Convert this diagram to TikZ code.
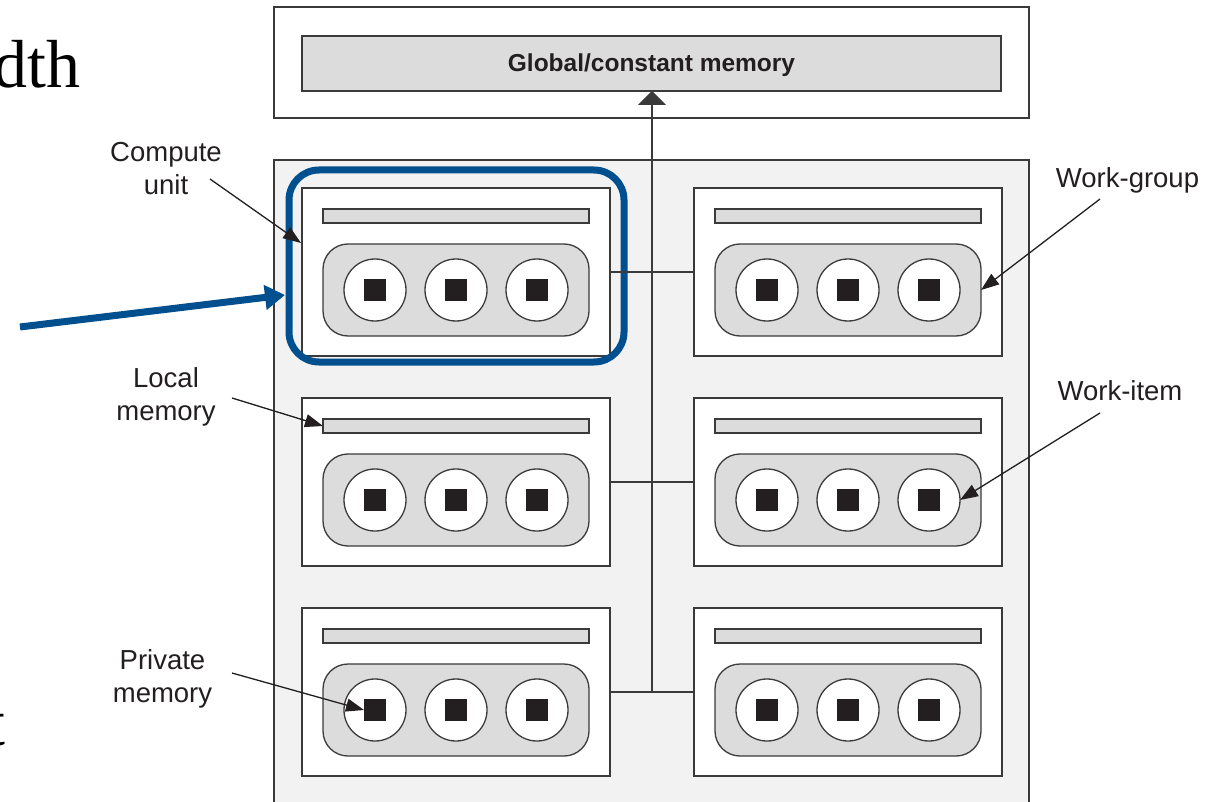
\documentclass[tikz,border=0pt]{standalone}
\usepackage{fontspec}
\setmainfont{Liberation Sans}
\newfontfamily\slidefont{Liberation Serif}
\usetikzlibrary{arrows.meta,calc}
\definecolor{ink}{HTML}{231F20}
\definecolor{edge}{HTML}{3A3A3A}
\definecolor{barfill}{HTML}{DCDCDC}
\definecolor{panelfill}{HTML}{F2F2F2}
\definecolor{hlblue}{HTML}{00508F}
\begin{document}
\begin{tikzpicture}[x=1pt,y=-1pt,
  framebox/.style={draw=edge,line width=1.3pt,fill=white,anchor=north west,inner sep=0pt,outer sep=0pt},
  cubox/.style={framebox,minimum width=308pt,minimum height=168pt},
  lmbar/.style={draw=edge,line width=1.3pt,fill=barfill,anchor=north west,inner sep=0pt,outer sep=0pt,minimum width=266pt,minimum height=14pt},
  wgbox/.style={draw=edge,line width=1.3pt,fill=barfill,rounded corners=25pt,anchor=north west,inner sep=0pt,outer sep=0pt,minimum width=266pt,minimum height=92pt},
  wi/.style={circle,draw=edge,line width=1.3pt,fill=white,inner sep=0pt,outer sep=0pt,minimum size=62pt},
  pm/.style={fill=ink,inner sep=0pt,outer sep=0pt,minimum size=22pt},
  lbl/.style={font=\fontsize{27.5}{33}\selectfont,align=center,inner sep=0pt,text=ink},
  lblarrow/.style={draw=ink,line width=1.3pt,-{Triangle[length=18pt,width=13pt]}},
  bus/.style={draw=edge,line width=1.3pt},
  frag/.style={font=\slidefont\fontsize{68}{72}\selectfont,inner sep=0pt,text=black,anchor=base east}
]
\useasboundingbox (0,0) rectangle (1228,802);
\fill[white] (0,0) rectangle (1228,802);

% slide text fragments
\node[frag] (frag1) at (81,88) {dth};
\node[frag] (frag2) at (6,745) {t};

% global memory
\node[framebox,minimum width=755pt,minimum height=111pt] (gbox) at (274,7) {};
\node[lmbar,minimum width=699pt,minimum height=55pt] (gbar) at (302,36) {};
\node[font=\bfseries\fontsize{24.5}{29}\selectfont,text=ink,inner sep=0pt] (gtext) at ($(gbar.center)+(0,2)$) {Global/constant memory};

% device panel
\node[framebox,fill=panelfill,minimum width=755pt,minimum height=670pt] (panel) at (274,160) {};

% compute units
\foreach \c/\X in {L/302,R/694}{
  \foreach \r/\Y in {1/188,2/398,3/608}{
    \node[cubox] (cu\c\r) at (\X,\Y) {};
    \node[lmbar] (lm\c\r) at (\X+21,\Y+21) {};
    \node[wgbox] (wg\c\r) at (\X+21,\Y+56) {};
    \foreach \k/\dx in {1/73,2/154,3/235}{
      \node[wi] (wi\c\r\k) at (\X+\dx,\Y+102) {};
      \node[pm] (pm\c\r\k) at (\X+\dx,\Y+102) {};
    }
  }
}

% highlight frame
\node[draw=hlblue,line width=7pt,rounded corners=30pt,minimum width=335pt,minimum height=192pt,inner sep=0pt,outer sep=0pt] (hl) at (456.5,266) {};
\coordinate (bluetail) at (20,327);
\coordinate (bluetip) at (285,295);
\draw[hlblue,line width=7pt,-{Triangle[length=20pt,width=24pt]}] (bluetail) -- (bluetip);

% bus connectors
\coordinate (j1) at (652,272);
\coordinate (j2) at (652,482);
\coordinate (j3) at (652,692);
\foreach \r in {1,2,3}{
  \draw[bus] (cuL\r.east) -- (cuR\r.west);
}
\draw[bus,-{Triangle[length=14pt,width=28pt]}] (j3) -- (gbar.south -| j3);

% labels
\node[lbl] (tcu) at (166,169) {Compute\\unit};
\node[lbl] (tlm) at (166,397) {Local\\memory};
\node[lbl] (tpm) at (162.5,678.5) {Private\\memory};
\node[lbl] (twg) at (1127.5,180.5) {Work-group};
\node[lbl] (twi) at (1120,390.5) {Work-item};

\coordinate (acu) at (210,179);
\coordinate (acutip) at (301,243);
\coordinate (alm) at (232,398);
\coordinate (apm) at (232,673);
\coordinate (awg) at (1100,199);
\coordinate (awi) at (1100,413);

\draw[lblarrow] (acu) -- (acutip);
\draw[lblarrow] (alm) -- (lmL2.west);
\draw[lblarrow] (apm) -- (pmL31.west);
\draw[lblarrow] (awg) -- (wgR1.east);
\draw[lblarrow] (awi) -- (wiR23.east);
\end{tikzpicture}
\end{document}
